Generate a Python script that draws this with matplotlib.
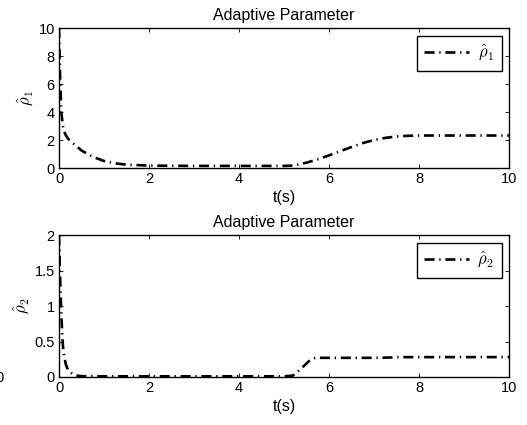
import matplotlib
matplotlib.use("Agg")
import matplotlib.pyplot as plt

plt.rcParams["font.family"] = ["Liberation Sans", "DejaVu Sans"]
plt.rcParams["mathtext.fontset"] = "cm"

# values
t1 = [0, 0.02, 0.05, 0.1, 0.15, 0.2, 0.3, 0.5, 0.75, 1.0, 1.25, 1.5, 2.0, 3.0, 4.0, 5.0, 5.2,
      5.5, 5.75, 6.0, 6.25, 6.5, 6.75, 7.0, 7.25, 7.5, 7.75, 8.0, 9.0, 10.0]
rho1 = [10, 7.0, 4.0, 2.7, 2.35, 2.1, 1.8, 1.25, 0.8, 0.5, 0.33, 0.24, 0.17, 0.15, 0.15, 0.15, 0.17,
        0.38, 0.62, 0.9, 1.2, 1.5, 1.78, 2.0, 2.15, 2.25, 2.3, 2.32, 2.32, 2.32]

t2 = [0, 0.02, 0.05, 0.08, 0.1, 0.15, 0.2, 0.3, 0.4, 0.5, 1.0, 2.0, 3.0, 4.0, 5.0, 5.2,
      5.4, 5.6, 5.7, 6.0, 7.0, 7.4, 7.5, 8.0, 9.0, 10.0]
rho2 = [2.0, 1.5, 0.9, 0.5, 0.35, 0.18, 0.1, 0.04, 0.02, 0.012, 0.01, 0.01, 0.01, 0.01, 0.01, 0.02,
        0.13, 0.25, 0.27, 0.27, 0.27, 0.275, 0.28, 0.28, 0.28, 0.28]

panels = [
    (t1, rho1, r"$\hat{\rho}_1$", [0, 10], [0, 2, 4, 6, 8, 10], ["0", "2", "4", "6", "8", "10"]),
    (t2, rho2, r"$\hat{\rho}_2$", [0, 2], [0, 0.5, 1, 1.5, 2], ["0", "0.5", "1", "1.5", "2"]),
]

fig = plt.figure(figsize=(5.27, 4.25), dpi=100)
boxes = [[59 / 527, 1 - 168 / 425, 450 / 527, 140 / 425],
         [59 / 527, 1 - 377 / 425, 450 / 527, 142 / 425]]

for box, (t, y, name, ylim, yt, ytl) in zip(boxes, panels):
    ax = fig.add_axes(box)
    ax.plot(t, y, color="black", linewidth=1.9, linestyle=(0, (3.8, 1.8, 0.5, 1.8)), label=name)
    ax.set_xlim(0, 10)
    ax.set_ylim(ylim)
    ax.set_xticks([0, 2, 4, 6, 8, 10])
    ax.set_yticks(yt)
    ax.set_yticklabels(ytl)
    ax.tick_params(direction="in", top=True, right=True, labelsize=10.5, length=3, width=0.6, pad=3)
    for s in ax.spines.values():
        s.set_linewidth(1.0)
    ax.set_title("Adaptive Parameter", fontsize=11.5, pad=6)
    ax.set_xlabel("t(s)", fontsize=11.5, labelpad=3)
    ax.set_ylabel(name, fontsize=12, labelpad=2)
    leg = ax.legend(loc="upper right", fontsize=12, fancybox=False, framealpha=1,
                    edgecolor="black", handlelength=2.7, handletextpad=0.5,
                    borderaxespad=0.45, borderpad=0.45)
    leg.get_frame().set_linewidth(1.0)

fig.text(0, 1 - 378 / 425, "0", fontsize=10.5, ha="center", va="center")

fig.savefig("out.png", dpi=100)
